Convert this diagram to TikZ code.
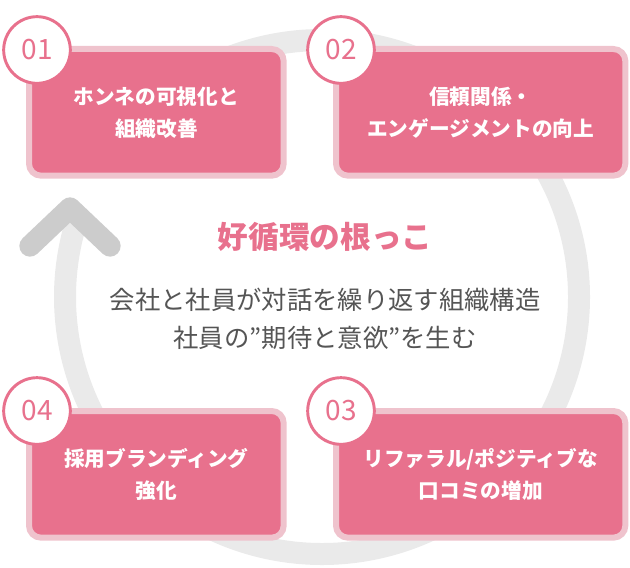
\documentclass[tikz,border=0pt]{standalone}
\usepackage{fontspec}
\setmainfont{Noto Sans CJK JP}
\definecolor{pk}{HTML}{E8718D}
\definecolor{pkb}{HTML}{EFC3CD}
\definecolor{ring}{HTML}{EAEAEA}
\definecolor{chev}{HTML}{CCCCCC}
\definecolor{txt}{HTML}{555555}
\begin{document}
\begin{tikzpicture}[x=0.75pt,y=-0.75pt,
  box/.style={draw=pkb,line width=4.5pt,fill=pk,rounded corners=9pt,inner sep=0pt,align=center,text=white,font=\fontsize{15.5}{24}\selectfont\bfseries},
  badge/.style={circle,draw=pk,line width=2.2pt,fill=white,minimum size=50pt,inner sep=0pt,text=pk,font=\fontsize{21}{21}\selectfont}]
\useasboundingbox (0,0) rectangle (630,567);
\draw[ring,line width=16.5pt] (322,297) ++(225:257) arc[start angle=225,end angle=558.5,radius=257];
\coordinate (apex) at (70,208);
\coordinate (al) at (30,246);
\coordinate (ar) at (110,246);
\draw[chev,line width=16pt,line cap=round,line join=round] (al) -- (apex) -- (ar);
\node[box,minimum width=191pt,minimum height=95pt,anchor=north west] (b1) at (26,46) {ホンネの可視化と\\組織改善};
\node[box,minimum width=217pt,minimum height=95pt,anchor=north west] (b2) at (333,46) {信頼関係・\\エンゲージメントの向上};
\node[box,minimum width=217pt,minimum height=95pt,anchor=north west] (b3) at (333,408) {リファラル/ポジティブな\\口コミの増加};
\node[box,minimum width=191pt,minimum height=95pt,anchor=north west] (b4) at (26,408) {採用ブランディング\\強化};
\node[badge] (n1) at (37,50) {01};
\node[badge] (n2) at (341,50) {02};
\node[badge] (n3) at (341,411) {03};
\node[badge] (n4) at (37,411) {04};
\node[text=pk,font=\fontsize{23}{23}\selectfont\bfseries] (t) at (325,237) {好循環の根っこ};
\node[text=txt,align=center,font=\fontsize{19}{28.5}\selectfont] (s) at (325,319) {会社と社員が対話を繰り返す組織構造\\社員の”期待と意欲”を生む};
\end{tikzpicture}
\end{document}
